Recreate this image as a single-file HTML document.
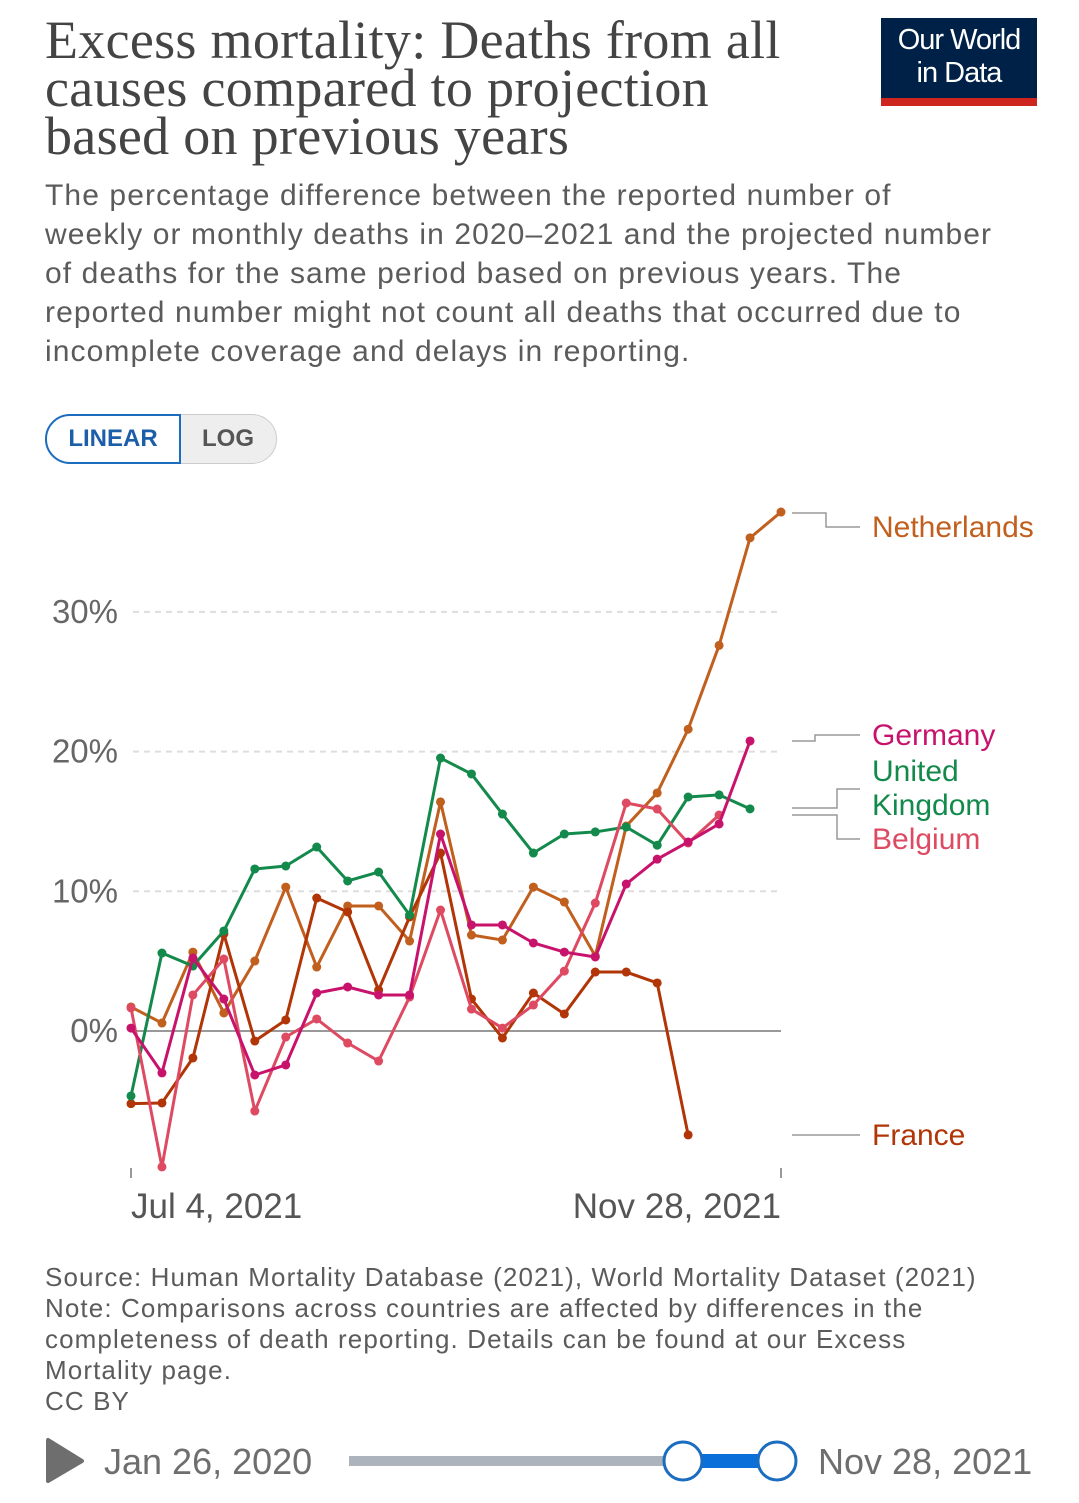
<!DOCTYPE html>
<html><head><meta charset="utf-8"><style>
body{margin:0;width:1079px;height:1503px;background:#fff;font-family:"Liberation Sans",sans-serif;position:relative;overflow:hidden}
.abs{position:absolute;white-space:nowrap}
#title{left:45px;top:16px;font-family:"Liberation Serif",serif;font-size:54px;line-height:48px;color:#444;letter-spacing:0.3px}
#sub{left:45px;top:176px;font-size:30px;line-height:39px;color:#5b5b5b;letter-spacing:1.1px}
.foot{left:45px;font-size:26px;color:#5b5b5b;line-height:31px;letter-spacing:1.1px}
</style></head><body>
<div class="abs" id="title">Excess mortality: Deaths from all<br>causes compared to projection<br>based on previous years</div>
<div class="abs" style="left:881px;top:18px;width:156px;height:88px;background:#002147;color:#fff;font-size:29px;line-height:33px;text-align:center;border-bottom:8px solid #ce261e;box-sizing:border-box;padding-top:6px;letter-spacing:-1px">Our World<br>in Data</div>
<div class="abs" id="sub">The percentage difference between the reported number of<br>weekly or monthly deaths in 2020–2021 and the projected number<br>of deaths for the same period based on previous years. The<br>reported number might not count all deaths that occurred due to<br>incomplete coverage and delays in reporting.</div>
<div class="abs" style="left:45px;top:414px;width:230px;height:48px;border:1px solid #ccc;border-radius:25px;background:#eee;"></div>
<div class="abs" style="left:45px;top:414px;width:132px;height:46px;border:2px solid #1c6dc0;border-radius:25px 0 0 25px;background:#fff;color:#1c5fa8;font-size:24px;line-height:46px;text-align:center;font-weight:bold">LINEAR</div>
<div class="abs" style="left:181px;top:414px;width:94px;height:50px;color:#555;font-size:24px;line-height:50px;text-align:center;font-weight:bold">LOG</div>

<svg class="abs" id="chart" style="left:0;top:480px" width="1079" height="760" viewBox="0 480 1079 760"></svg>

<div class="abs foot" style="top:1262px">Source: Human Mortality Database (2021), World Mortality Dataset (2021)<br>Note: Comparisons across countries are affected by differences in the<br>completeness of death reporting. Details can be found at our Excess<br>Mortality page.<br>CC BY</div>

<svg class="abs" style="left:0;top:1420px" width="1079" height="83">
<polygon points="48,20 48,61 82,41" fill="#6e6e6e" stroke="#6e6e6e" stroke-width="4" stroke-linejoin="round"/>
<text x="104" y="54" font-size="36" fill="#6e6e6e" font-family="Liberation Sans">Jan 26, 2020</text>
<rect x="349" y="36" width="334" height="10" fill="#adb3bc"/>
<rect x="683" y="34" width="94" height="14" fill="#0a6fd8"/>
<circle cx="683" cy="41" r="19" fill="#fff" stroke="#1c6dc0" stroke-width="3"/>
<circle cx="777" cy="41" r="19" fill="#fff" stroke="#1c6dc0" stroke-width="3"/>
<text x="818" y="54" font-size="36" fill="#6e6e6e" font-family="Liberation Sans">Nov 28, 2021</text>
</svg>

<script>
const uk=[-4.65,5.58,4.65,7.16,11.6,11.81,13.17,10.74,11.38,8.3,19.54,18.4,15.53,12.74,14.1,14.25,14.6,13.3,16.75,16.9,15.9];
const netherlands=[1.72,0.57,5.65,1.29,5.01,10.3,4.58,8.95,8.95,6.44,16.4,6.87,6.51,10.3,9.23,5.37,14.67,17.04,21.6,27.6,35.3,37.15];
const france=[-5.2,-5.15,-1.93,6.94,-0.72,0.79,9.52,8.52,2.93,8.16,12.74,2.29,-0.5,2.72,1.22,4.22,4.22,3.44,-7.44];
const germany=[0.21,-3.0,5.23,2.29,-3.15,-2.43,2.72,3.15,2.58,2.58,14.1,7.59,7.59,6.3,5.65,5.3,10.52,12.3,13.53,14.82,20.76];
const belgium=[1.65,-9.73,2.58,5.15,-5.73,-0.43,0.86,-0.86,-2.15,2.43,8.66,1.57,0.21,1.86,4.29,9.16,16.32,15.89,13.46,15.46];
const yTicks=[0,10,20,30];
const xTickLabels=["Jul 4, 2021","Nov 28, 2021"];
const nWeeks=21;

const NS="http://www.w3.org/2000/svg";
const svg=document.getElementById('chart');
const X=i=>131+i*(650/nWeeks);
const Y=v=>1031-v*13.97;
function mk(t,a){const e=document.createElementNS(NS,t);for(const k in a)e.setAttribute(k,a[k]);svg.appendChild(e);return e;}
yTicks.forEach(t=>{
  const l=mk('line',{x1:t===0?131:133,x2:781,y1:Y(t),y2:Y(t),stroke:t===0?'#999':'#ddd','stroke-width':2,'stroke-dasharray':t===0?'':'6,5'});
  
  
  const tx=mk('text',{x:118,y:Y(t)+11,'text-anchor':'end','font-size':33,fill:'#666','font-family':'Liberation Sans'});
  tx.textContent=t+'%';
  
  
});
[[0,'start'],[nWeeks,'end']].forEach(([i,anc],k)=>{
  const l=mk('line',{x1:X(i),x2:X(i),y1:1168,y2:1178,stroke:'#999','stroke-width':2});
  
  
  const t=mk('text',{x:X(i),y:1218,'text-anchor':anc,'font-size':35,fill:'#555','font-family':'Liberation Sans'});
  t.textContent=xTickLabels[k];
  
  
});
const series=[
 ['netherlands',netherlands,'#c15f1e'],
 ['france',france,'#b13507'],
 ['uk',uk,'#138a4c'],
 ['belgium',belgium,'#dd4a62'],
 ['germany',germany,'#c8136c']];
series.forEach(([n,d,c])=>{
  const p=mk('polyline',{points:d.map((v,i)=>X(i)+','+Y(v)).join(' '),fill:'none',stroke:c,'stroke-width':3,'stroke-linejoin':'round'});
  
  
  d.forEach((v,i)=>{const ci=mk('circle',{cx:X(i),cy:Y(v),r:4.5,fill:c});
    
    });
});
const labels=[
 ['Netherlands','#c15f1e',[[792,513],[826,513],[826,527],[860,527]],537],
 ['Germany','#c8136c',[[792,741],[815,741],[815,735],[860,735]],745],
 ['United','#138a4c',[[792,808],[837,808],[837,789],[860,789]],781],
 ['Kingdom','#138a4c',null,815],
 ['Belgium','#dd4a62',[[792,815],[837,815],[837,839],[860,839]],849],
 ['France','#b13507',[[792,1135],[860,1135]],1145]];
labels.forEach(([t,c,pts,ty])=>{
  if(pts){const l=mk('polyline',{points:pts.map(p=>p.join(',')).join(' '),fill:'none',stroke:'#999','stroke-width':1.5});
    
    }
  const tx=mk('text',{x:872,y:ty,'font-size':30,fill:c,'font-family':'Liberation Sans'});
  tx.textContent=t;
  
  
});
</script>
</body></html>
